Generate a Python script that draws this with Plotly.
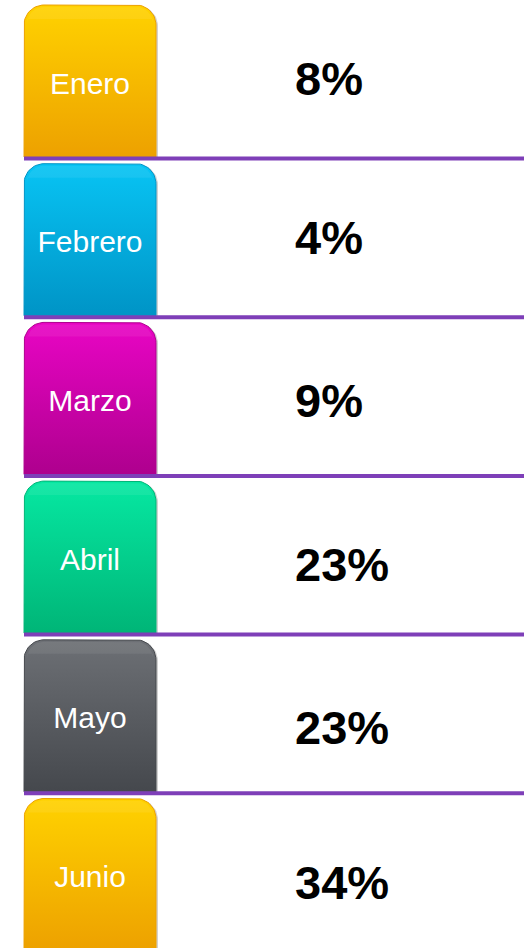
import numpy as np
import plotly.graph_objects as go

# ---- data ----
months = ["Enero", "Febrero", "Marzo", "Abril", "Mayo", "Junio"]
values = [8, 4, 9, 23, 23, 34]
top_colors = ["#FFD200", "#08C4F4", "#E805C4", "#06E8A2", "#6D7075", "#FFD200"]
bottom_colors = ["#EDA100", "#0094C6", "#AE008E", "#00B577", "#45484D", "#EDA100"]

# ---- layout constants (page-pixel axis units) ----
W, H = 531, 948
row_pitch = 158.7
row_top0 = 5
tab_h = 152
tab_x0, tab_x1 = 24, 156
radius = 20
line_color = "#7E3FB8"
pct_offsets = [2, 3, 7, 12, 16, 13]

fig = go.Figure()


def tab_path(x0, x1, y0, y1, r, n=16):
    # rounded top corners (y grows downward), square bottom
    xs, ys = [x0], [y1]
    a = np.linspace(np.pi, 1.5 * np.pi, n)
    xs += list(x0 + r + r * np.cos(a))
    ys += list(y0 + r + r * np.sin(a))
    a = np.linspace(1.5 * np.pi, 2 * np.pi, n)
    xs += list(x1 - r + r * np.cos(a))
    ys += list(y0 + r + r * np.sin(a))
    xs += [x1, x0]
    ys += [y1, y1]
    return xs, ys


for i, (m, v) in enumerate(zip(months, values)):
    top = row_top0 + row_pitch * i
    bot = top + tab_h
    # shadow
    sx, sy = tab_path(tab_x0 + 1, tab_x1 + 2, top + 1, bot + 2, radius)
    fig.add_trace(go.Scatter(x=sx, y=sy, mode="lines", fill="toself",
                             fillcolor="rgba(0,0,0,0.18)", line=dict(width=0),
                             hoverinfo="skip", showlegend=False))
    xs, ys = tab_path(tab_x0, tab_x1, top, bot, radius)
    fig.add_trace(go.Scatter(
        x=xs, y=ys, mode="lines", fill="toself",
        fillgradient=dict(type="vertical", start=top, stop=bot,
                          colorscale=[[0, top_colors[i]], [1, bottom_colors[i]]]),
        line=dict(width=1, color=bottom_colors[i]),
        hoverinfo="skip", showlegend=False))
    # soft highlight near top
    hx, hy = tab_path(tab_x0 + 3, tab_x1 - 3, top + 2, top + 14, radius - 3)
    fig.add_trace(go.Scatter(x=hx, y=hy, mode="lines", fill="toself",
                             fillcolor="rgba(255,255,255,0.07)", line=dict(width=0),
                             hoverinfo="skip", showlegend=False))
    # separator line
    if i < len(months) - 1:
        fig.add_trace(go.Scatter(x=[tab_x0, 524], y=[bot + 1.5, bot + 1.5], mode="lines",
                                 line=dict(color=line_color, width=4),
                                 hoverinfo="skip", showlegend=False))
    # month label
    fig.add_trace(go.Scatter(x=[(tab_x0 + tab_x1) / 2], y=[top + tab_h / 2 + 5], mode="text",
                             text=[m], textposition="middle center",
                             textfont=dict(family="Liberation Sans, Arial", size=30, color="white"),
                             hoverinfo="skip", showlegend=False))
    # percentage
    fig.add_trace(go.Scatter(x=[295], y=[top + tab_h / 2 + pct_offsets[i]], mode="text",
                             text=[f"<b>{v}%</b>"], textposition="middle right",
                             textfont=dict(family="Liberation Sans, Arial", size=47, color="black"),
                             hoverinfo="skip", showlegend=False))

fig.update_layout(
    width=W, height=H, margin=dict(l=0, r=0, t=0, b=0),
    paper_bgcolor="white", plot_bgcolor="white",
    xaxis=dict(range=[0, W], visible=False, fixedrange=True),
    yaxis=dict(range=[H, 0], visible=False, fixedrange=True),
    showlegend=False,
)

fig.write_html("out.html", config={"displayModeBar": False},
               post_script="document.body.style.margin='0';")
